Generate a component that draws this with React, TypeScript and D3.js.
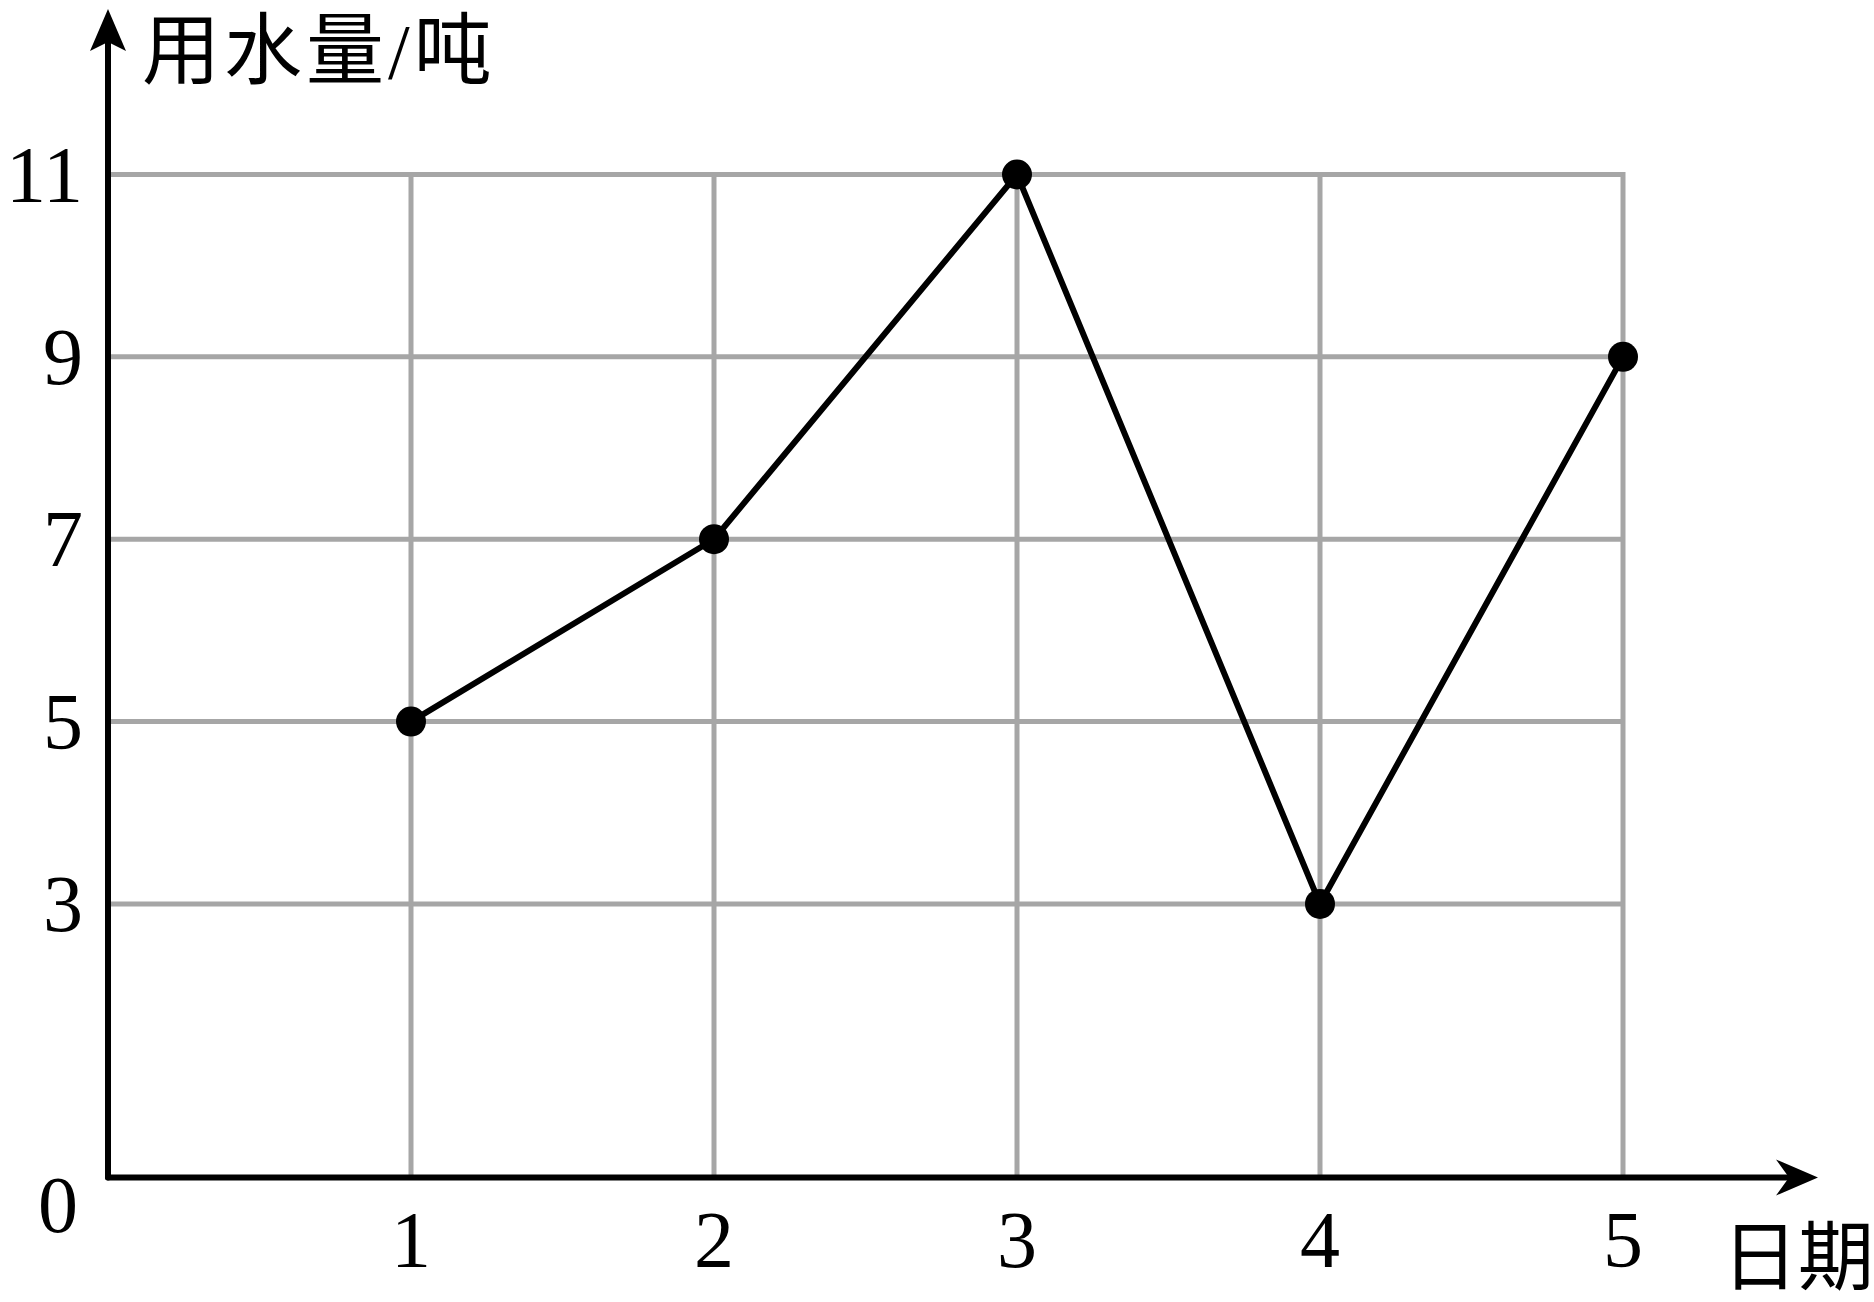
import React from 'react';
import * as d3 from 'd3';

// data
const days = [1, 2, 3, 4, 5];
const water = [5, 7, 11, 3, 9];
const yTicks = [3, 5, 7, 9, 11];

const W = 1874;
const H = 1302;

const App = () => {
    const x = d3.scaleLinear().domain([0, 5]).range([108, 1623]);
    const y = d3.scaleLinear().domain([0, 11]).range([1177.5, 174.5]);

    const pts = days.map((d, i) => [x(d), y(water[i])] as [number, number]);
    const line = d3.line()(pts);

    const serif = '"Liberation Serif", "Times New Roman", "Noto Sans CJK SC", serif';
    const grid = '#a6a6a6';

    return (
        <svg width={W} height={H} style={{ position: 'absolute', left: 0, top: 0, background: '#fff' }}>
            {/* grid */}
            {yTicks.map(t => (
                <line key={'h' + t} x1={x(0)} x2={x(5)} y1={y(t)} y2={y(t)} stroke={grid} strokeWidth={5} />
            ))}
            {days.map(d => (
                <line key={'v' + d} x1={x(d)} x2={x(d)} y1={y(0)} y2={y(11) - 2.5} stroke={grid} strokeWidth={5} />
            ))}

            {/* axes */}
            <line x1={x(0)} x2={1790} y1={y(0)} y2={y(0)} stroke="#000" strokeWidth={6} strokeLinecap="round" />
            <path d={`M1818,${y(0)} L1776,${y(0) - 18} L1789,${y(0)} L1776,${y(0) + 18} Z`} fill="#000" />
            <line x1={x(0)} x2={x(0)} y1={y(0)} y2={40} stroke="#000" strokeWidth={6} strokeLinecap="round" />
            <path d={`M${x(0)},9 L${x(0) + 18},51 L${x(0)},42 L${x(0) - 18},51 Z`} fill="#000" />

            {/* data */}
            <path d={line || ''} fill="none" stroke="#000" strokeWidth={6} strokeLinejoin="round" />
            {pts.map((p, i) => (
                <circle key={i} cx={p[0]} cy={p[1]} r={15} fill="#000" />
            ))}

            {/* tick labels */}
            {yTicks.map(t => (
                <text key={'yl' + t} x={83} y={y(t) + 27} textAnchor="end" fontFamily={serif} fontSize={80}>
                    {t}
                </text>
            ))}
            <text x={78} y={1232} textAnchor="end" fontFamily={serif} fontSize={80}>0</text>
            {days.map(d => (
                <text key={'xl' + d} x={x(d)} y={1267} textAnchor="middle" fontFamily={serif} fontSize={80}>
                    {d}
                </text>
            ))}

            {/* axis titles */}
            <text x={142} y={78} fontFamily={serif} fontSize={78} letterSpacing={4}>用水量/吨</text>
            <text x={1722} y={1284} fontFamily={serif} fontSize={76}>日期</text>
        </svg>
    );
};

export default App;
